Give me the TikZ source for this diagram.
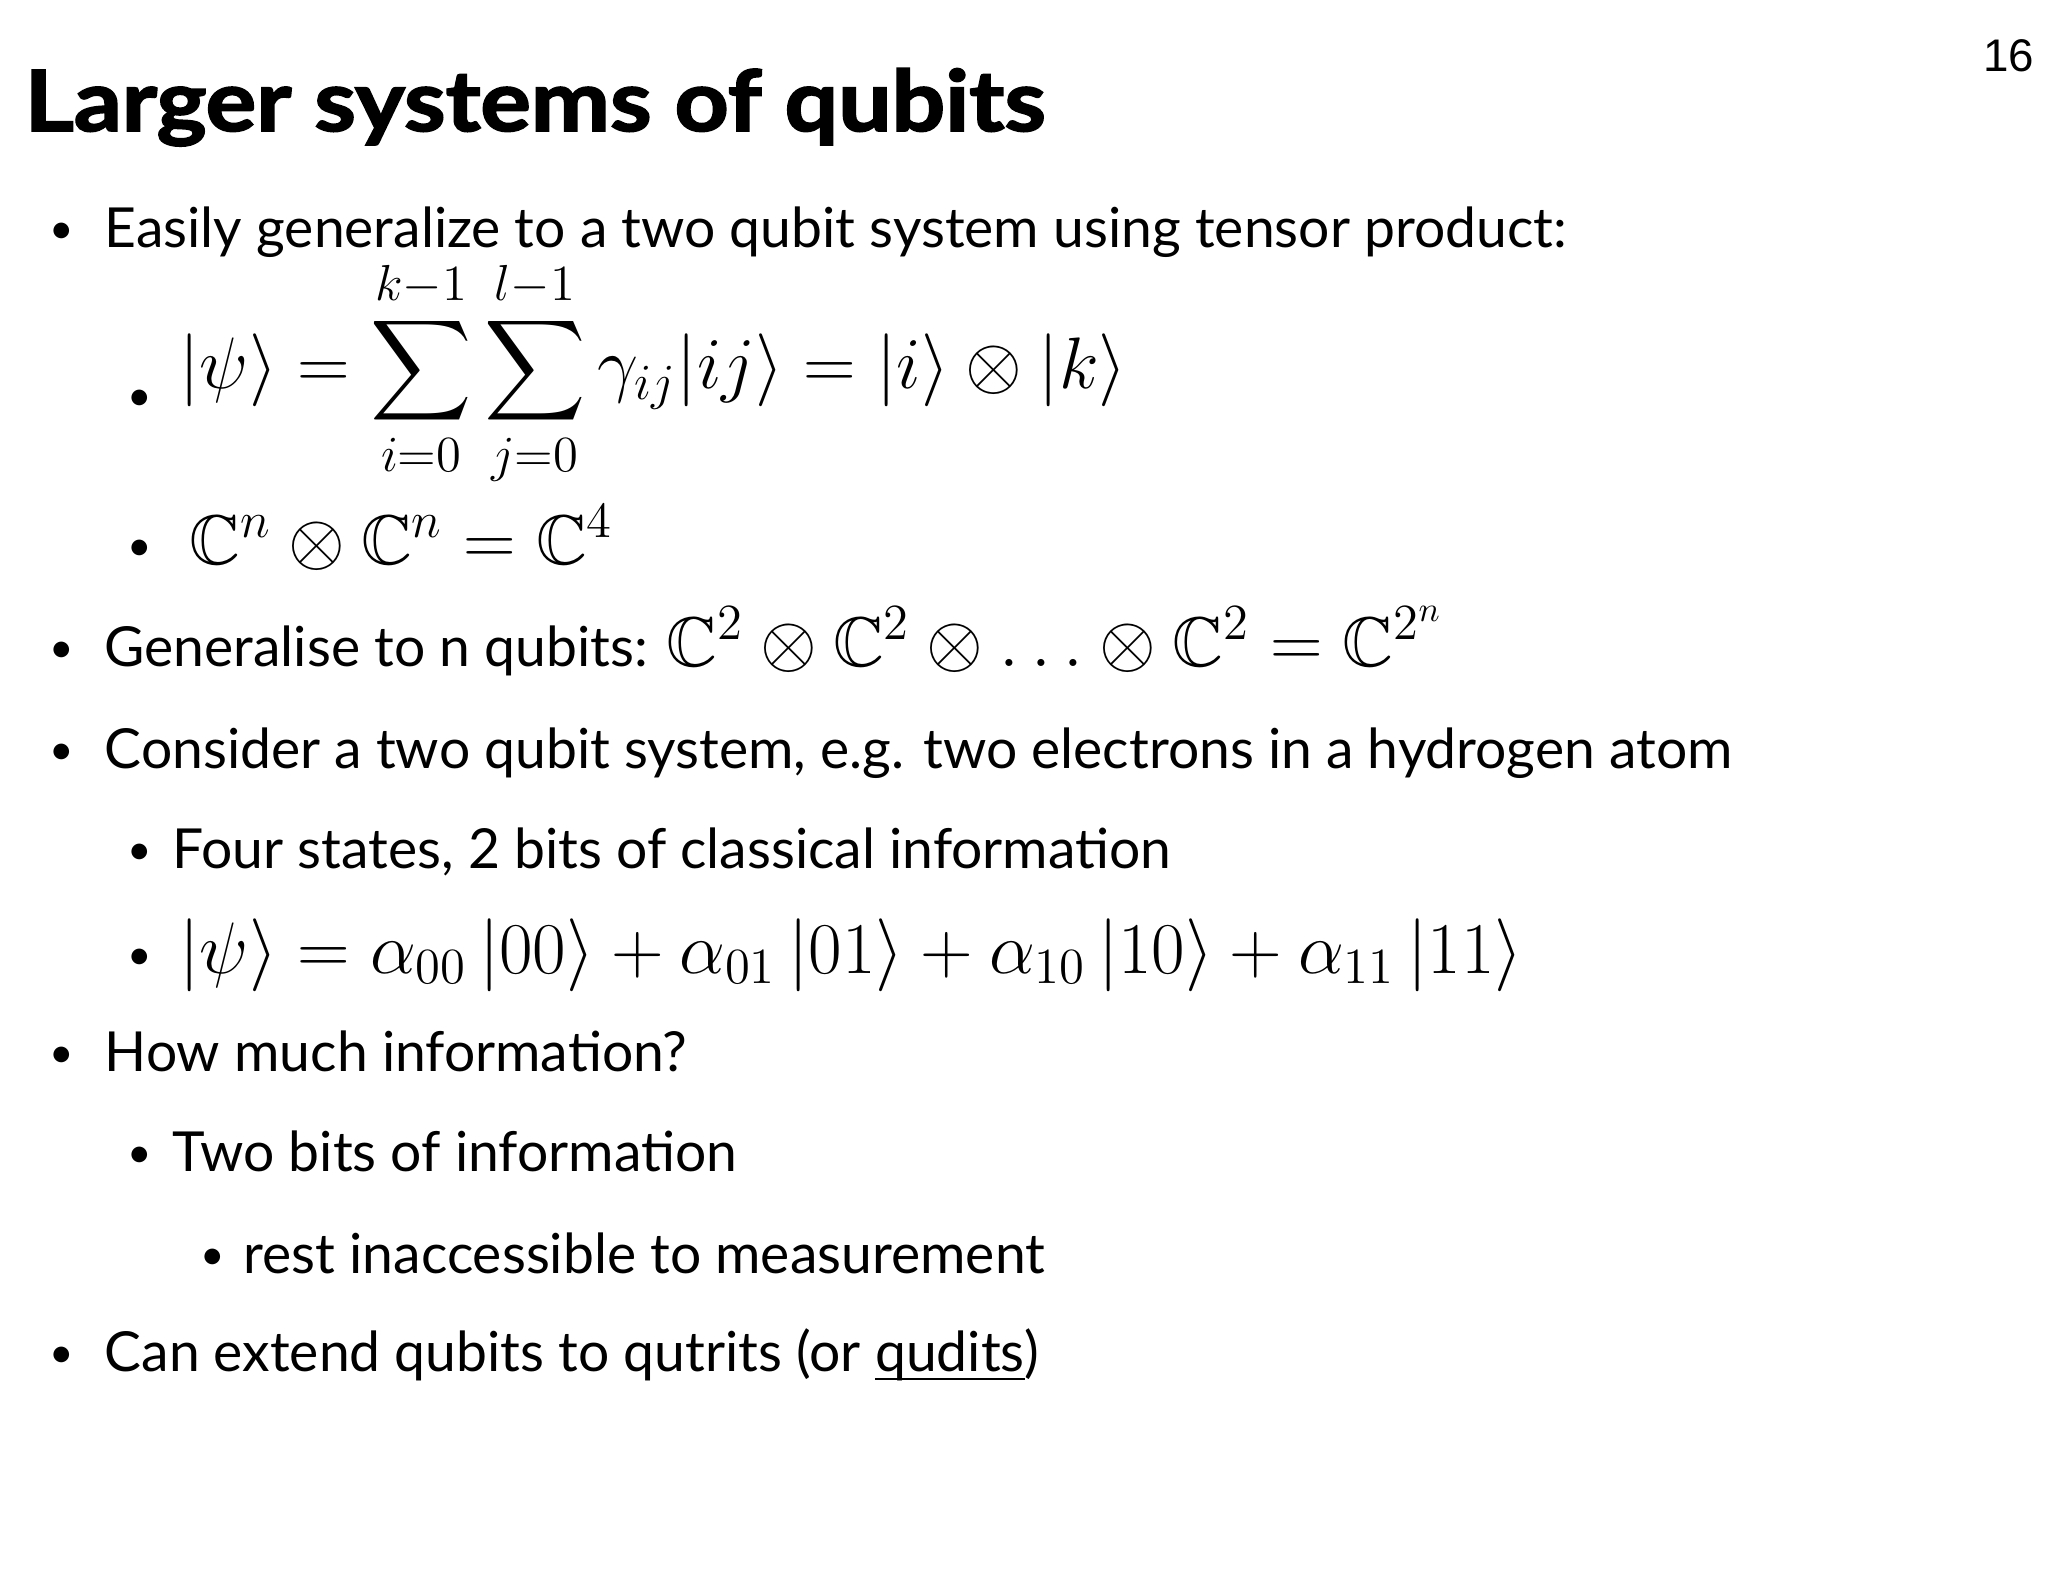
\documentclass[tikz,border=0pt]{standalone}
\usepackage{amsmath,amssymb}
\usepackage{fontspec}
\setmainfont{Lato}
\newfontfamily\titlefont[FakeBold=2]{Lato}
\newfontfamily\numfont{Liberation Sans}
\newcommand{\myul}[1]{\underline{\smash{#1}}}
\tikzset{
 txt/.style={anchor=base west,inner sep=0pt,font=\fontsize{15.7}{18}\selectfont},
 mth/.style={anchor=base west,inner sep=0pt,font=\fontsize{20}{23}\selectfont},
 bul/.style={anchor=base,inner sep=0pt,font=\fontsize{12}{14}\selectfont}
}
\begin{document}
\begin{tikzpicture}[x=0.01cm,y=-0.01cm]
\useasboundingbox (0,0) rectangle (2048,1582);
\node[anchor=base east,inner sep=0pt,font=\fontsize{13}{15}\selectfont\numfont] (pg) at (2035,72) {16};
\node[anchor=base west,inner sep=0pt,font=\fontsize{24}{28}\selectfont\titlefont\bfseries] (title) at (24,131) {\scalebox{1.12}[1]{Larger systems of qubits}};
\node[bul] (b1) at (62,244) {•};
\node[txt] (t1) at (104,248) {Easily generalize to a two qubit system using tensor product:};
\node[bul] (b2) at (140,410) {•};
\node[mth] (t2) at (179,389) {$\displaystyle |\psi\rangle = \sum_{i=0}^{k-1}\sum_{j=0}^{l-1}\gamma_{ij}|ij\rangle = |i\rangle\otimes|k\rangle$};
\node[bul] (b3) at (140,560) {•};
\node[mth] (t3) at (189,564) {$\mathbb{C}^n\otimes\mathbb{C}^n=\mathbb{C}^4$};
\node[bul] (b4) at (62,662) {•};
\node[txt] (t4) at (104,666) {Generalise to n qubits: \fontsize{20}{23}\selectfont$\mathbb{C}^2\otimes\mathbb{C}^2\otimes\ldots\otimes\mathbb{C}^2=\mathbb{C}^{2^n}$};
\node[bul] (b5) at (62,764) {•};
\node[txt] (t5) at (104,768) {Consider a two qubit system, e.g. two electrons in a hydrogen atom};
\node[bul] (b6) at (140,864) {•};
\node[txt] (t6) at (172,868) {Four states, 2 bits of classical information};
\node[bul] (b7) at (140,969) {•};
\node[mth] (t7) at (179,973) {$|\psi\rangle=\alpha_{00}\,|00\rangle+\alpha_{01}\,|01\rangle+\alpha_{10}\,|10\rangle+\alpha_{11}\,|11\rangle$};
\node[bul] (b8) at (62,1067) {•};
\node[txt] (t8) at (104,1071) {How much information?};
\node[bul] (b9) at (140,1167) {•};
\node[txt] (t9) at (172,1171) {Two bits of information};
\node[bul] (b10) at (213,1269) {•};
\node[txt] (t10) at (243,1273) {rest inaccessible to measurement};
\node[bul] (b11) at (62,1367) {•};
\node[txt] (t11) at (104,1371) {Can extend qubits to qutrits (or \myul{qudits})};
\end{tikzpicture}
\end{document}
